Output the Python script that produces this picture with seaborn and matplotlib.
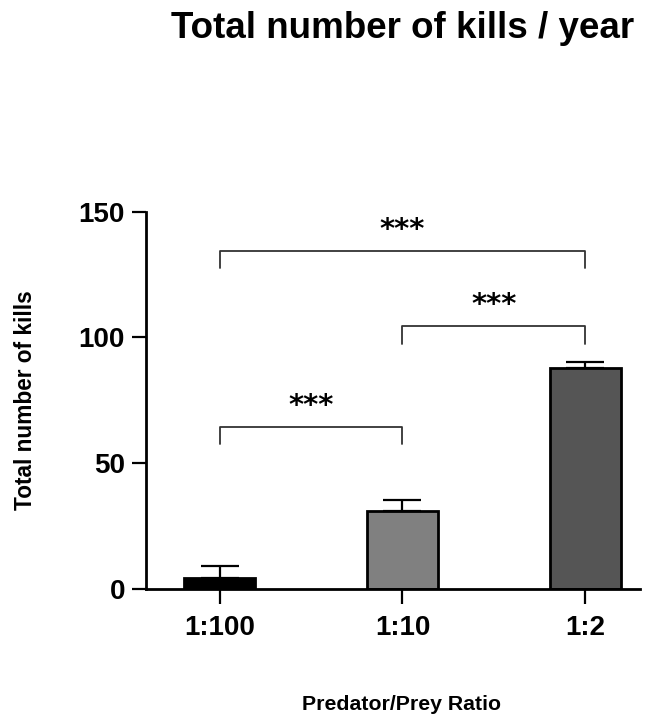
import matplotlib
matplotlib.use("Agg")
import matplotlib.pyplot as plt
import seaborn as sns
import pandas as pd

ratios = ["1:100", "1:10", "1:2"]
kills = [4.5, 31, 88]
kills_err = [4.5, 4.5, 2.3]
bar_colors = ["#000000", "#808080", "#555555"]

# significance brackets: (left idx, right idx, y, label)
brackets = [(0, 2, 134.5, "***"), (1, 2, 104.5, "***"), (0, 1, 64.5, "***")]

sns.set_style("ticks")
plt.rcParams['font.family'] = ['Liberation Sans', 'DejaVu Sans']
plt.rcParams['text.color'] = 'black'
plt.rcParams['xtick.color'] = 'black'
plt.rcParams['ytick.color'] = 'black'
plt.rcParams['axes.labelcolor'] = 'black'

df = pd.DataFrame({"ratio": ratios, "kills": kills})

fig = plt.figure(figsize=(6.57, 7.2), dpi=100)
ax = fig.add_axes([0.222, 0.182, 0.752, 0.524])

sns.barplot(data=df, x="ratio", y="kills", hue="ratio", palette=bar_colors,
            width=0.39, edgecolor="black", linewidth=2, errorbar=None,
            legend=False, ax=ax)
ax.errorbar(range(len(ratios)), kills, yerr=[[0] * 3, kills_err], fmt="none",
            ecolor="black", elinewidth=1.6, capsize=14, capthick=1.6, zorder=1)

for i, j, y, lab in brackets:
    ax.plot([i, i, j, j], [y - 7, y, y, y - 7], color="#333333", lw=1.3,
            clip_on=False)
    ax.text((i + j) / 2, y + 8.3, lab, ha="center", va="center",
            fontsize=21, fontweight="bold", family="DejaVu Sans")

ax.set_ylim(0, 150)
ax.set_xlim(-0.405, 2.3)
ax.set_yticks([0, 50, 100, 150])
sns.despine(ax=ax)
for s in ["left", "bottom"]:
    ax.spines[s].set_linewidth(2)
    ax.spines[s].set_color("black")
ax.tick_params(axis="y", length=10, width=1.6, labelsize=20, pad=5)
ax.tick_params(axis="x", length=11, width=1.6, labelsize=20, pad=8)
for t in ax.get_xticklabels() + ax.get_yticklabels():
    t.set_fontweight("bold")

ax.set_xlabel("Predator/Prey Ratio", fontsize=15.3, fontweight="bold")
ax.xaxis.set_label_coords(0.518, -0.28)
ax.set_ylabel("Total number of kills", fontsize=16.3, fontweight="bold",
              labelpad=30)
fig.suptitle("Total number of kills / year", x=0.613, y=1 - 38 / 720,
             va="baseline", fontsize=26.5, fontweight="bold")

fig.savefig("out.png", dpi=100)
